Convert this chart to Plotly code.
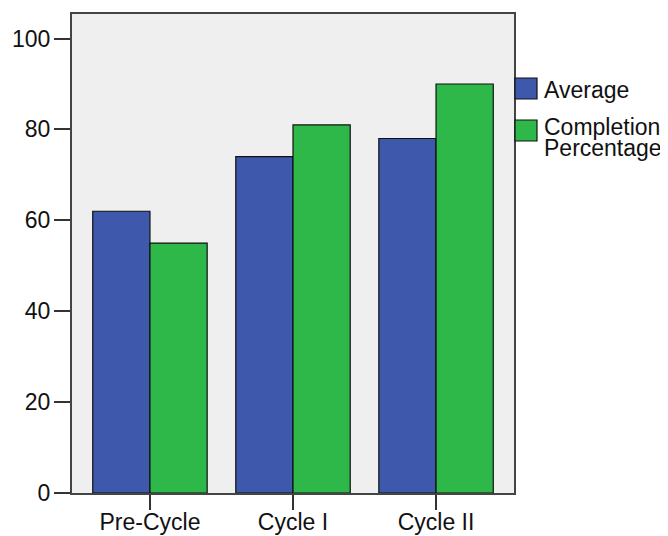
import plotly.graph_objects as go

categories = ["Pre-Cycle", "Cycle I", "Cycle II"]
average = [62, 74, 78]
completion = [55, 81, 90]
series_names = ["Average", "Completion Percentage"]
legend_text_lines = ["Average", "Completion", "Percentage"]
y_ticks = [0, 20, 40, 60, 80, 100]

BLUE = "#3E58AC"
GREEN = "#2EB84A"
FONT = "Liberation Sans, Arial, sans-serif"
FS = 23

# the page body has an 8px default margin: size the figure so it fills the window
OFF = 8
W, H = 668 - OFF, 536 - OFF
# plot area in page pixels: x 72..514, y 14..493
L, T = 72 - OFF, 14 - OFF
R, B = 668 - 514, 536 - 493
pw, ph = W - L - R, H - T - B

def px(x):
    return (x - OFF - L) / pw

def py(y):
    return (H - B - (y - OFF)) / ph

fig = go.Figure()
fig.add_trace(go.Bar(x=categories, y=average, name=series_names[0],
                     marker=dict(color=BLUE, line=dict(color="#111", width=1.2)),
                     showlegend=False))
fig.add_trace(go.Bar(x=categories, y=completion, name=series_names[1],
                     marker=dict(color=GREEN, line=dict(color="#111", width=1.2)),
                     showlegend=False))

# manual legend (large squares like the reference)
shapes = [
    dict(type="rect", xref="paper", yref="paper", x0=px(515), x1=px(537), y0=py(99), y1=py(78),
         fillcolor=BLUE, line=dict(color="#111", width=1.2)),
    dict(type="rect", xref="paper", yref="paper", x0=px(515), x1=px(537), y0=py(141), y1=py(120),
         fillcolor=GREEN, line=dict(color="#111", width=1.2)),
]
legend_y = [90, 127, 148]
annotations = [
    dict(xref="paper", yref="paper", x=px(542), y=py(yy), xanchor="left", yanchor="middle",
         text=t, showarrow=False, align="left",
         font=dict(family=FONT, size=FS, color="#111"))
    for t, yy in zip(legend_text_lines, legend_y)
]

fig.update_layout(
    width=W, height=H,
    margin=dict(l=L, r=R, t=T, b=B, pad=0),
    paper_bgcolor="white",
    plot_bgcolor="#EFEFEF",
    barmode="group",
    bargap=0.2,
    bargroupgap=0,
    font=dict(family=FONT, size=FS, color="#111"),
    shapes=shapes,
    annotations=annotations,
)
fig.update_xaxes(
    range=[-0.545, 2.545], automargin=False,
    showline=True, mirror=True, linecolor="#444", linewidth=2,
    ticks="outside", ticklen=15, tickwidth=2, tickcolor="#333",
    ticklabelstandoff=-8,
    showgrid=False, zeroline=False,
    tickfont=dict(family=FONT, size=FS, color="#111"),
)
fig.update_yaxes(
    range=[0, 105.4], automargin=False,
    tickvals=y_ticks,
    showline=True, mirror=True, linecolor="#444", linewidth=2,
    ticks="outside", ticklen=16, tickwidth=2, tickcolor="#333",
    ticklabelstandoff=-1,
    showgrid=False, zeroline=False,
    tickfont=dict(family=FONT, size=FS, color="#111"),
)

fig.write_html("out.html")
